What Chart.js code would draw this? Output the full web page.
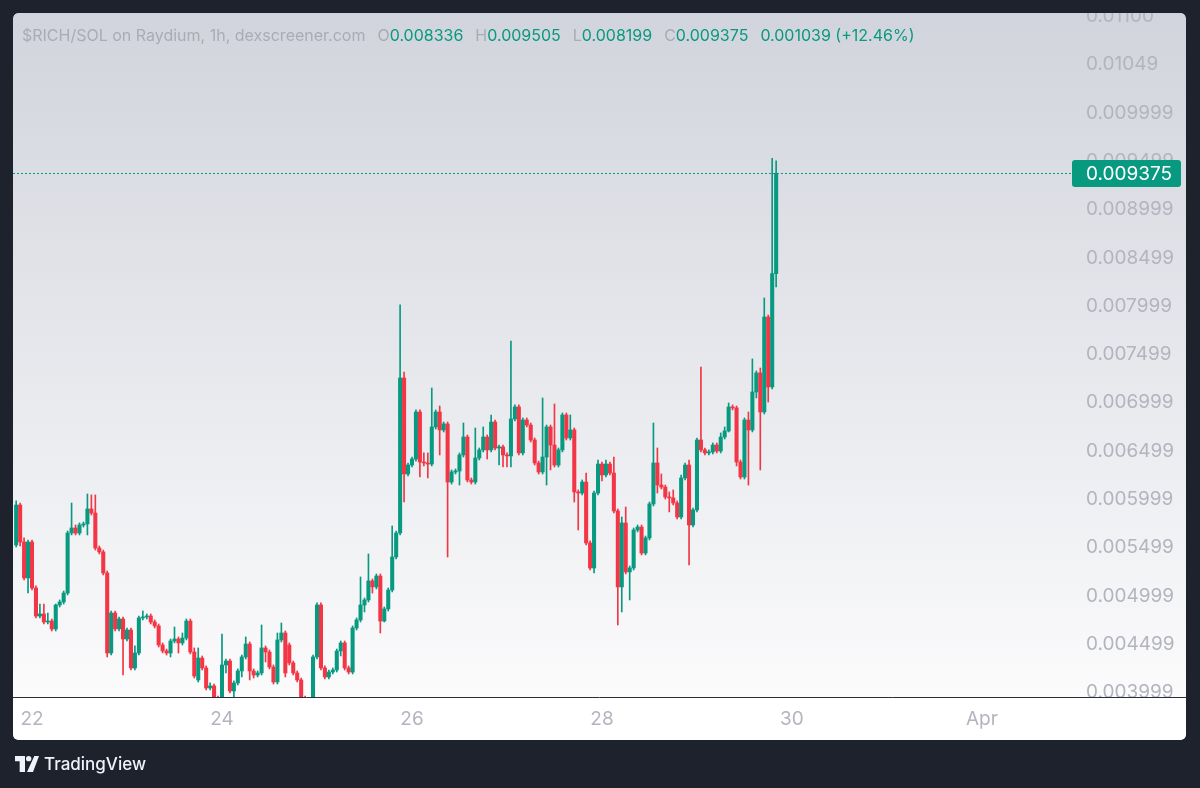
<!DOCTYPE html>
<html>
<head>
<meta charset="utf-8">
<script src="https://cdn.jsdelivr.net/npm/chart.js@4.4.1/dist/chart.umd.min.js"></script>
<style>
  html, body { margin: 0; padding: 0; background: #1e222d; }
  #wrap { position: relative; width: 1200px; height: 788px; overflow: hidden; }
  #chart { position: absolute; left: 0; top: 0; }
  #legend {
    position: absolute; left: 22px; top: 25px;
    font: 16px Inter, "Liberation Sans", sans-serif; color: #a9acb5;
    white-space: pre; display: flex;
  }
  #legend .k { margin-left: 12px; }
  #legend .v { color: #089981; }
  #brand {
    position: absolute; left: 15px; top: 754px; display: flex; align-items: center;
    font: 500 17px Inter, "Liberation Sans", sans-serif; color: #f0f3fa;
  }
  #brand svg { margin-right: 5px; }
</style>
</head>
<body>
<div id="wrap">
  <canvas id="chart" width="1200" height="788"></canvas>
  <div id="legend"></div>
  <div id="brand">
    <svg width="24" height="16" viewBox="0 0 36 24"><path d="M0 0H15V24H7V8H0Z M29 0H36L27 24H18Z" fill="#f0f3fa"/><circle cx="20.5" cy="4" r="4" fill="#f0f3fa"/></svg>
    <span>TradingView</span>
  </div>
</div>
<script>
// $RICH/SOL, 1h candles. Hours are counted from 22 Mar 00:00, first candle is 21 Mar 20:00
const firstCandleHour = -4;

const opens = [
  0.005527, 0.005941, 0.005558, 0.005186,
  // 22 Mar
  0.005558, 0.005082, 0.004792, 0.004813, 0.004730, 0.004740, 0.004658, 0.004906, 0.004937, 0.005030, 0.005651, 0.005703,
  0.005651, 0.005734, 0.005745, 0.005900, 0.005858, 0.005496, 0.005455, 0.005237, 0.004409, 0.004823, 0.004658, 0.004761,
  // 23 Mar
  0.004554, 0.004647, 0.004254, 0.004409, 0.004772, 0.004782, 0.004792, 0.004730, 0.004689, 0.004492, 0.004430, 0.004409,
  0.004533, 0.004554, 0.004513, 0.004564, 0.004740, 0.004419, 0.004130, 0.004357, 0.004254, 0.004047, 0.004068, 0.003943,
  // 24 Mar
  0.003923, 0.004285, 0.004326, 0.004016, 0.004099, 0.004223, 0.004368, 0.004502, 0.004223, 0.004181, 0.004202, 0.004461,
  0.004419, 0.004264, 0.004109, 0.004544, 0.004616, 0.004492, 0.004306, 0.004202, 0.004130, 0.003943, 0.003861, 0.003923,
  // 25 Mar
  0.004368, 0.004906, 0.004254, 0.004161, 0.004212, 0.004233, 0.004430, 0.004513, 0.004254, 0.004212, 0.004668, 0.004751,
  0.004906, 0.004958, 0.005155, 0.005093, 0.005206, 0.004740, 0.004865, 0.005061, 0.005403, 0.005651, 0.007256, 0.006262,
  // 26 Mar
  0.006355, 0.006417, 0.006904, 0.006386, 0.006376, 0.006365, 0.006749, 0.006904, 0.006718, 0.006780, 0.006179, 0.006283,
  0.006293, 0.006459, 0.006645, 0.006200, 0.006179, 0.006428, 0.006511, 0.006645, 0.006511, 0.006800, 0.006531, 0.006542,
  // 27 Mar
  0.006459, 0.006449, 0.006832, 0.006956, 0.006480, 0.006821, 0.006769, 0.006614, 0.006376, 0.006283, 0.006438, 0.006749,
  0.006562, 0.006355, 0.006511, 0.006873, 0.006635, 0.006718, 0.006076, 0.006065, 0.006179, 0.005548, 0.005289, 0.006065,
  // 28 Mar
  0.006365, 0.006252, 0.006365, 0.006272, 0.005879, 0.005093, 0.005755, 0.005248, 0.005289, 0.005682, 0.005713, 0.005444,
  0.005600, 0.005952, 0.006376, 0.006148, 0.006127, 0.006024, 0.006014, 0.005962, 0.005817, 0.006221, 0.006355, 0.005734,
  // 29 Mar
  0.005890, 0.006614, 0.006511, 0.006480, 0.006490, 0.006562, 0.006500, 0.006645, 0.006707, 0.006956, 0.006946, 0.006386,
  0.006231, 0.006821, 0.006718, 0.007111, 0.007308, 0.006904, 0.007887, 0.007163, 0.008336
];

const highs = [
  0.005983, 0.005962, 0.005600, 0.005579,
  0.005579, 0.005103, 0.004916, 0.004916, 0.004823, 0.004761, 0.004916, 0.004958, 0.005051, 0.005672, 0.005962, 0.005734,
  0.005755, 0.005765, 0.006055, 0.006045, 0.006045, 0.005517, 0.005475, 0.005258, 0.004844, 0.004844, 0.004782, 0.004782,
  0.004668, 0.004668, 0.004482, 0.004792, 0.004844, 0.004813, 0.004813, 0.004751, 0.004709, 0.004513, 0.004450, 0.004554,
  0.004678, 0.004575, 0.004616, 0.004761, 0.004761, 0.004461, 0.004461, 0.004378, 0.004275, 0.004099, 0.004088, 0.003964,
  0.004606, 0.004347, 0.004347, 0.004120, 0.004244, 0.004388, 0.004575, 0.004523, 0.004244, 0.004223, 0.004699, 0.004482,
  0.004440, 0.004285, 0.004616, 0.004720, 0.004637, 0.004513, 0.004326, 0.004223, 0.004150, 0.003964, 0.003943, 0.004388,
  0.004927, 0.004927, 0.004275, 0.004233, 0.004254, 0.004450, 0.004533, 0.004533, 0.004275, 0.004689, 0.004772, 0.005196,
  0.004978, 0.005434, 0.005175, 0.005227, 0.005227, 0.004885, 0.005082, 0.005724, 0.005672, 0.008012, 0.007318, 0.006376,
  0.006438, 0.006925, 0.006925, 0.006480, 0.006480, 0.007152, 0.006925, 0.006966, 0.006800, 0.006800, 0.006304, 0.006314,
  0.006480, 0.006790, 0.006666, 0.006221, 0.006738, 0.006531, 0.006749, 0.006666, 0.006873, 0.006821, 0.006562, 0.006562,
  0.006480, 0.007639, 0.006977, 0.006977, 0.006842, 0.006842, 0.006790, 0.006635, 0.006396, 0.007049, 0.006769, 0.006769,
  0.006987, 0.006531, 0.006894, 0.006894, 0.006873, 0.006738, 0.006097, 0.006200, 0.006272, 0.005569, 0.006086, 0.006407,
  0.006386, 0.006407, 0.006386, 0.006438, 0.005900, 0.005817, 0.005920, 0.005310, 0.005703, 0.005734, 0.005734, 0.005620,
  0.005972, 0.006790, 0.006531, 0.006262, 0.006148, 0.006076, 0.006097, 0.005983, 0.006252, 0.006376, 0.006407, 0.005910,
  0.006635, 0.007370, 0.006531, 0.006511, 0.006583, 0.006583, 0.006687, 0.006749, 0.006997, 0.006977, 0.006966, 0.006407,
  0.006842, 0.006904, 0.007453, 0.007329, 0.007359, 0.008084, 0.007908, 0.009530, 0.009505
];

const lows = [
  0.005506, 0.005517, 0.005165, 0.005030,
  0.005061, 0.004772, 0.004772, 0.004709, 0.004709, 0.004637, 0.004637, 0.004885, 0.004916, 0.005010, 0.005631, 0.005631,
  0.005631, 0.005713, 0.005631, 0.005837, 0.005475, 0.005434, 0.005217, 0.004368, 0.004388, 0.004637, 0.004637, 0.004181,
  0.004533, 0.004233, 0.004233, 0.004388, 0.004751, 0.004761, 0.004709, 0.004668, 0.004471, 0.004409, 0.004388, 0.004368,
  0.004513, 0.004409, 0.004492, 0.004544, 0.004399, 0.004150, 0.004109, 0.004233, 0.004026, 0.004026, 0.003902, 0.003819,
  0.003850, 0.004202, 0.003995, 0.003943, 0.004078, 0.004161, 0.004347, 0.004130, 0.004150, 0.004161, 0.004181, 0.004316,
  0.004244, 0.004088, 0.004088, 0.004523, 0.004161, 0.004285, 0.004181, 0.004109, 0.003902, 0.003798, 0.003798, 0.003902,
  0.004347, 0.004233, 0.004140, 0.004140, 0.004192, 0.004212, 0.004378, 0.004233, 0.004192, 0.004192, 0.004647, 0.004730,
  0.004834, 0.004937, 0.005030, 0.005072, 0.004616, 0.004730, 0.004844, 0.005041, 0.005382, 0.005631, 0.005972, 0.006241,
  0.006334, 0.006396, 0.006231, 0.006345, 0.006221, 0.006345, 0.006728, 0.006459, 0.006697, 0.005403, 0.006158, 0.006262,
  0.006148, 0.006438, 0.006179, 0.006158, 0.006158, 0.006407, 0.006490, 0.006417, 0.006490, 0.006511, 0.006355, 0.006334,
  0.006334, 0.006334, 0.006811, 0.006459, 0.006459, 0.006749, 0.006593, 0.006355, 0.006262, 0.006262, 0.006148, 0.006304,
  0.006334, 0.006334, 0.006490, 0.006614, 0.006614, 0.005972, 0.005682, 0.006045, 0.005527, 0.005268, 0.005237, 0.006045,
  0.006190, 0.006231, 0.006252, 0.005858, 0.004699, 0.004834, 0.005227, 0.004958, 0.005268, 0.005662, 0.005424, 0.005424,
  0.005579, 0.005931, 0.006065, 0.006107, 0.006003, 0.005869, 0.005941, 0.005796, 0.005796, 0.006200, 0.005320, 0.005713,
  0.005869, 0.006490, 0.006459, 0.006459, 0.006469, 0.006480, 0.006480, 0.006624, 0.006697, 0.006925, 0.006345, 0.006210,
  0.006210, 0.006148, 0.006697, 0.007049, 0.006304, 0.006883, 0.007007, 0.007142, 0.008199
];

const closes = [
  0.005941, 0.005558, 0.005186, 0.005558,
  0.005082, 0.004792, 0.004813, 0.004730, 0.004740, 0.004658, 0.004906, 0.004937, 0.005030, 0.005651, 0.005703, 0.005651,
  0.005734, 0.005745, 0.005900, 0.005858, 0.005496, 0.005455, 0.005237, 0.004409, 0.004823, 0.004658, 0.004761, 0.004554,
  0.004647, 0.004254, 0.004409, 0.004772, 0.004782, 0.004792, 0.004730, 0.004689, 0.004492, 0.004430, 0.004409, 0.004533,
  0.004554, 0.004513, 0.004564, 0.004740, 0.004419, 0.004171, 0.004357, 0.004254, 0.004047, 0.004068, 0.003943, 0.003871,
  0.004285, 0.004326, 0.004016, 0.004099, 0.004223, 0.004368, 0.004502, 0.004223, 0.004181, 0.004202, 0.004461, 0.004419,
  0.004264, 0.004109, 0.004544, 0.004616, 0.004202, 0.004306, 0.004202, 0.004130, 0.003943, 0.003861, 0.003923, 0.004368,
  0.004906, 0.004254, 0.004161, 0.004212, 0.004233, 0.004430, 0.004513, 0.004254, 0.004212, 0.004668, 0.004751, 0.004906,
  0.004958, 0.005155, 0.005093, 0.005206, 0.004740, 0.004865, 0.005061, 0.005403, 0.005651, 0.007256, 0.006262, 0.006355,
  0.006417, 0.006904, 0.006386, 0.006376, 0.006365, 0.006749, 0.006904, 0.006718, 0.006780, 0.006179, 0.006283, 0.006293,
  0.006459, 0.006645, 0.006200, 0.006179, 0.006428, 0.006511, 0.006645, 0.006511, 0.006800, 0.006531, 0.006542, 0.006459,
  0.006449, 0.006832, 0.006956, 0.006480, 0.006821, 0.006769, 0.006614, 0.006376, 0.006283, 0.006438, 0.006749, 0.006562,
  0.006355, 0.006511, 0.006873, 0.006635, 0.006718, 0.006076, 0.006065, 0.006179, 0.005548, 0.005289, 0.006065, 0.006365,
  0.006252, 0.006365, 0.006272, 0.005879, 0.005093, 0.005755, 0.005248, 0.005289, 0.005682, 0.005713, 0.005444, 0.005600,
  0.005952, 0.006376, 0.006148, 0.006127, 0.006024, 0.006014, 0.005962, 0.005817, 0.006221, 0.006355, 0.005734, 0.005890,
  0.006614, 0.006511, 0.006480, 0.006490, 0.006562, 0.006500, 0.006645, 0.006707, 0.006956, 0.006946, 0.006386, 0.006231,
  0.006821, 0.006718, 0.007111, 0.007308, 0.006904, 0.007887, 0.007163, 0.008336, 0.009375
];

// time axis: day marks
const dayTickHours = [0, 48, 96, 144, 192, 240];
const dayTickLabels = ['22', '24', '26', '28', '30', 'Apr'];

// price axis marks
const priceTicks = [0.0039995, 0.0044995, 0.0049995, 0.0054995, 0.0059995, 0.0064995, 0.0069995, 0.0074995,
  0.0079995, 0.0084995, 0.0089995, 0.0094995, 0.0099995, 0.0104995, 0.0109995];
const priceTickLabels = ['0.003999', '0.004499', '0.004999', '0.005499', '0.005999', '0.006499', '0.006999', '0.007499',
  '0.007999', '0.008499', '0.008999', '0.009499', '0.009999', '0.01049', '0.01100'];

const UP = '#089981';
const DOWN = '#f23645';
const AXIS_TEXT = '#b2b5be';
const PANEL = { x: 13, y: 13, w: 1173, h: 727, r: 5 };

// legend line (last candle)
const last = closes.length - 1;
const change = closes[last] - closes[last - 1];
const pct = change / closes[last - 1] * 100;
document.getElementById('legend').innerHTML =
  '<span>$RICH/SOL on Raydium, 1h, dexscreener.com</span>' +
  '<span class="k">O</span><span class="v">' + opens[last].toFixed(6) + '</span>' +
  '<span class="k">H</span><span class="v">' + highs[last].toFixed(6) + '</span>' +
  '<span class="k">L</span><span class="v">' + lows[last].toFixed(6) + '</span>' +
  '<span class="k">C</span><span class="v">' + closes[last].toFixed(6) + '</span>' +
  '<span class="k v">' + change.toFixed(6) + ' (+' + pct.toFixed(2) + '%)</span>';

const candleColors = closes.map((c, i) => c >= opens[i] ? UP : DOWN);
const wickData = closes.map((c, i) => ({ x: firstCandleHour + i, y: [lows[i], highs[i]] }));
const bodyData = closes.map((c, i) => ({ x: firstCandleHour + i, y: [opens[i], c] }));

const panelPlugin = {
  id: 'panel',
  beforeDraw(chart) {
    const { ctx, chartArea: a } = chart;
    ctx.save();
    ctx.fillStyle = '#1e222d';
    ctx.fillRect(0, 0, chart.width, chart.height);
    const g = ctx.createLinearGradient(0, a.top, 0, a.bottom);
    g.addColorStop(0, '#d1d4dc');
    g.addColorStop(1, '#fbfbfc');
    ctx.fillStyle = g;
    ctx.beginPath();
    ctx.roundRect(PANEL.x, PANEL.y, PANEL.w, PANEL.h, PANEL.r);
    ctx.fill();
    ctx.restore();
  },
  afterDatasetsDraw(chart) {
    // time scale strip hides anything under the pane
    const { ctx, chartArea: a } = chart;
    ctx.save();
    ctx.fillStyle = '#ffffff';
    ctx.beginPath();
    ctx.roundRect(PANEL.x, a.bottom, PANEL.w, PANEL.y + PANEL.h - a.bottom, [0, 0, PANEL.r, PANEL.r]);
    ctx.fill();
    ctx.strokeStyle = '#2a2e39';
    ctx.lineWidth = 1;
    ctx.beginPath();
    ctx.moveTo(PANEL.x, a.bottom + 0.5);
    ctx.lineTo(PANEL.x + PANEL.w, a.bottom + 0.5);
    ctx.stroke();
    ctx.restore();
  },
  afterDraw(chart) {
    const { ctx, chartArea: a } = chart;
    ctx.save();
    // dark frame round the pane (cuts the top price label)
    ctx.fillStyle = '#1e222d';
    ctx.beginPath();
    ctx.rect(0, 0, chart.width, chart.height);
    ctx.roundRect(PANEL.x, PANEL.y, PANEL.w, PANEL.h, PANEL.r);
    ctx.fill('evenodd');

    // last price line + label
    const y = Math.round(chart.scales.y.getPixelForValue(closes[last]));
    ctx.strokeStyle = UP;
    ctx.lineWidth = 1;
    ctx.setLineDash([2, 2]);
    ctx.beginPath();
    ctx.moveTo(a.left, y + 0.5);
    ctx.lineTo(a.right, y + 0.5);
    ctx.stroke();
    ctx.setLineDash([]);
    ctx.fillStyle = UP;
    ctx.beginPath();
    ctx.roundRect(a.right - 1, y - 13, 109, 27, 3);
    ctx.fill();
    ctx.fillStyle = '#ffffff';
    ctx.font = '19px Inter';
    ctx.textBaseline = 'middle';
    ctx.fillText(closes[last].toFixed(6), a.right + 13, y + 1);
    ctx.restore();
  }
};

new Chart(document.getElementById('chart'), {
  type: 'bar',
  data: {
    datasets: [
      { label: 'wick', data: wickData, backgroundColor: candleColors, barThickness: 1, grouped: false, order: 2 },
      { label: 'body', data: bodyData, backgroundColor: candleColors, barThickness: 3.4, grouped: false, minBarLength: 1, order: 1 }
    ]
  },
  options: {
    responsive: false,
    animation: false,
    devicePixelRatio: 1,
    layout: { padding: { left: 13, top: 13, right: 14, bottom: 48 } },
    plugins: { legend: { display: false }, tooltip: { enabled: false } },
    scales: {
      x: {
        type: 'linear',
        min: -4.8,
        max: 263,
        offset: false,
        grid: { display: false, drawTicks: false },
        border: { display: false },
        ticks: {
          z: 1, autoSkip: false, maxRotation: 0, padding: 11, color: AXIS_TEXT,
          font: { family: 'Inter', size: 19 },
          callback: (v, i) => dayTickLabels[i]
        },
        afterBuildTicks: s => { s.ticks = dayTickHours.map(v => ({ value: v })); },
        afterFit: s => { s.height = 43; s.paddingLeft = 0; s.paddingRight = 0; }
      },
      y: {
        type: 'linear',
        position: 'right',
        min: 0.0039534,
        max: 0.0110342,
        grid: { display: false, drawTicks: false },
        border: { display: false },
        ticks: {
          padding: 13, color: AXIS_TEXT,
          font: { family: 'Inter', size: 19 },
          callback: (v, i) => priceTickLabels[i]
        },
        afterBuildTicks: s => { s.ticks = priceTicks.map(v => ({ value: v })); },
        afterFit: s => { s.width = 113; s.paddingTop = 0; s.paddingBottom = 0; }
      }
    }
  },
  plugins: [panelPlugin]
});
</script>
</body>
</html>
